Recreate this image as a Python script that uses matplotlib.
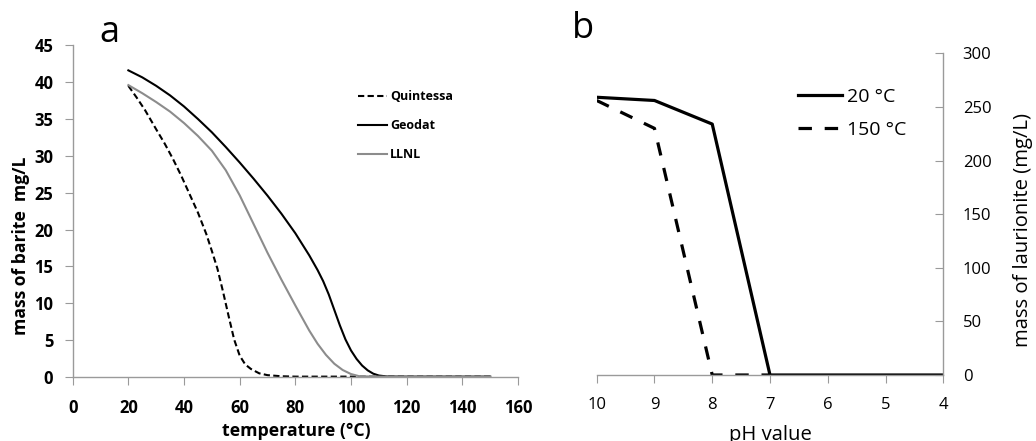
import matplotlib
matplotlib.use("Agg")
import matplotlib.pyplot as plt

plt.rcParams['font.family'] = ['Open Sans', 'DejaVu Sans']

# Panel a data
temp_geodat = [20, 25, 30, 35, 40, 45, 50, 55, 60, 65, 70, 75, 80, 85, 88, 90, 92, 94, 96, 98, 100, 102, 104, 106, 108, 110, 113, 120, 130, 140, 150]
mass_geodat = [41.6, 40.65, 39.5, 38.2, 36.7, 35.0, 33.2, 31.2, 29.1, 26.9, 24.6, 22.15, 19.5, 16.5, 14.5, 13.0, 11.2, 9.1, 7.0, 5.1, 3.6, 2.45, 1.55, 0.9, 0.45, 0.2, 0.07, 0.05, 0.05, 0.05, 0.05]
temp_llnl = [20, 25, 30, 35, 40, 45, 50, 55, 60, 65, 70, 75, 80, 85, 88, 91, 94, 97, 100, 103, 110, 120, 130, 140, 150]
mass_llnl = [39.6, 38.5, 37.3, 36.0, 34.45, 32.7, 30.7, 28.05, 24.65, 20.75, 16.85, 13.2, 9.7, 6.3, 4.5, 3.0, 1.8, 0.95, 0.4, 0.1, 0.05, 0.05, 0.05, 0.05, 0.05]
temp_quint = [20, 23, 26, 30, 33, 36, 39, 42, 45, 48, 50, 52, 54, 56, 58, 60, 62, 64, 67, 70, 75, 80, 100, 120, 150]
mass_quint = [39.5, 37.9, 36.2, 33.6, 31.7, 29.6, 27.3, 24.8, 22.3, 19.4, 17.1, 14.7, 11.6, 8.3, 5.1, 2.9, 1.7, 1.1, 0.5, 0.25, 0.1, 0.05, 0.05, 0.05, 0.05]

x_ticks_a = [0, 20, 40, 60, 80, 100, 120, 140, 160]
y_ticks_a = [0, 5, 10, 15, 20, 25, 30, 35, 40, 45]

# Panel b data
ph_values = [10, 9, 8, 7, 6, 5, 4]
laur_20 = [259, 256, 234, 0, 0, 0, 0]
ph_150 = [10, 9, 8, 7]
laur_150 = [256, 230, 0, 0]
x_ticks_b = [10, 9, 8, 7, 6, 5, 4]
y_ticks_b = [0, 50, 100, 150, 200, 250, 300]

spine_gray = '#9a9a9a'
W, H = 1036, 441

fig = plt.figure(figsize=(10.36, 4.41), dpi=100)

# ---- Panel a ----
axa = fig.add_axes([72.7 / W, 1 - 377 / H, (518 - 72.7) / W, (377 - 45.3) / H])
axa.plot(temp_quint, mass_quint, color='black', lw=1.5, ls=(0, (3, 1.6)), label='Quintessa')
axa.plot(temp_geodat, mass_geodat, color='black', lw=1.5, label='Geodat')
axa.plot(temp_llnl, mass_llnl, color='#8c8c8c', lw=1.5, label='LLNL')
axa.set_xlim(0, 160)
axa.set_ylim(0, 45)
axa.set_xticks(x_ticks_a)
axa.set_yticks(y_ticks_a)
for s in ['top', 'right']:
    axa.spines[s].set_visible(False)
for s in ['left', 'bottom']:
    axa.spines[s].set_color(spine_gray)
    axa.spines[s].set_linewidth(1.0)
axa.tick_params(direction='out', length=6, color=spine_gray, labelsize=12)
axa.tick_params(axis='x', pad=10)
axa.tick_params(axis='y', pad=8)
for lab in axa.get_xticklabels() + axa.get_yticklabels():
    lab.set_fontweight('bold')
axa.set_xlabel('temperature (°C)', fontsize=12.8, fontweight='bold')
axa.xaxis.set_label_coords(0.503, (377 - 422) / (377 - 45.3))
axa.set_ylabel('mass of barite  mg/L', fontsize=12.6, fontweight='bold')
axa.yaxis.set_label_coords((30 - 72.7) / (518 - 72.7), (377 - 246) / (377 - 45.3))
axa.legend(loc='upper left', bbox_to_anchor=(358 / W, 1 - 90 / H), bbox_transform=fig.transFigure,
           frameon=False, prop={'weight': 'bold', 'size': 9}, handlelength=2.3,
           handletextpad=0.25, labelspacing=1.3, borderpad=0, borderaxespad=0)
fig.text(109 / W, 1 - 33 / H, 'a', fontsize=26, ha='center', va='center')

# ---- Panel b ----
axb = fig.add_axes([596.7 / W, 1 - 375 / H, (943.3 - 596.7) / W, (375 - 53.3) / H])
axb.plot(ph_values, laur_20, color='black', lw=2.3, label='20 °C')
axb.plot(ph_150, laur_150, color='black', lw=2.3, ls=(0, (4.2, 4.0)), label='150 °C')
axb.set_xlim(10, 4)
axb.set_ylim(0, 300)
axb.set_xticks(x_ticks_b)
axb.set_yticks(y_ticks_b)
axb.yaxis.tick_right()
axb.yaxis.set_label_position('right')
for s in ['top', 'left']:
    axb.spines[s].set_visible(False)
for s in ['right', 'bottom']:
    axb.spines[s].set_color(spine_gray)
    axb.spines[s].set_linewidth(1.0)
axb.tick_params(axis='x', direction='out', length=6, color=spine_gray, labelsize=12, pad=9.5)
axb.tick_params(axis='y', direction='in', length=6, color=spine_gray, labelsize=12, pad=14)
axb.set_xlabel('pH value', fontsize=14.6)
axb.xaxis.set_label_coords((770 - 596.7) / (943.3 - 596.7), (375 - 425) / (375 - 53.3))
axb.set_ylabel('mass of laurionite (mg/L)', fontsize=14.6)
axb.yaxis.set_label_coords((1013 - 596.7) / (943.3 - 596.7), (375 - 230) / (375 - 53.3))
axb.legend(loc='upper left', bbox_to_anchor=(798 / W, 1 - 88 / H), bbox_transform=fig.transFigure,
           frameon=False, prop={'size': 14}, handlelength=2.27, handletextpad=0.25,
           labelspacing=0.75, borderpad=0, borderaxespad=0)
fig.text(583 / W, 1 - 29 / H, 'b', fontsize=26, ha='center', va='center')

fig.savefig('out.png', dpi=100)
